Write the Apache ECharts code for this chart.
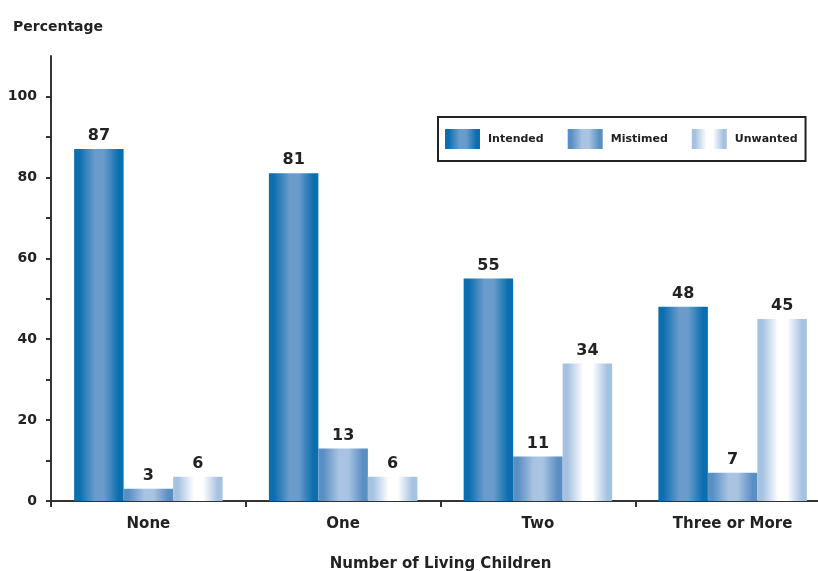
<!DOCTYPE html>
<html><head><meta charset="utf-8">
<script src="https://cdn.jsdelivr.net/npm/echarts@6/dist/echarts.min.js"></script>
<style>html,body{margin:0;padding:0;background:#fff}#c{width:818px;height:571px}</style>
</head><body><div id="c"></div>
<script>
const categories = ['None', 'One', 'Two', 'Three or More'];
const intended = [87, 81, 55, 48];
const mistimed = [3, 13, 11, 7];
const unwanted = [6, 6, 34, 45];
const seriesNames = ['Intended', 'Mistimed', 'Unwanted'];
const yTickValues = [0, 10, 20, 30, 40, 50, 60, 70, 80, 90, 100];
const yLabelValues = [0, 20, 40, 60, 80, 100];

const FONT = '"DejaVu Sans", Verdana, sans-serif';
function grad(edge, mid) {
  return new echarts.graphic.LinearGradient(0, 0, 1, 0, [
    {offset: 0, color: edge}, {offset: 0.1, color: edge},
    {offset: 0.42, color: mid}, {offset: 0.6, color: mid},
    {offset: 0.9, color: edge}, {offset: 1, color: edge}
  ]);
}
const styles = [
  ['#0a6eaf', '#6a9ccb'],
  ['#5a8fc3', '#a9c4e2'],
  ['#a6c2e1', '#ffffff']
];
const dataSets = [intended, mistimed, unwanted];

const chart = echarts.init(document.getElementById('c'), null, {renderer: 'canvas'});
chart.setOption({
  animation: false,
  backgroundColor: '#fff',
  textStyle: {fontFamily: FONT},
  title: {
    text: 'Percentage', left: 8, top: 15,
    textStyle: {fontFamily: FONT, fontSize: 14, fontWeight: 'bold', color: '#222'}
  },
  legend: {
    left: 438, top: 117,
    padding: [12, 8, 12, 7],
    borderColor: '#222', borderWidth: 2,
    icon: 'rect',
    itemWidth: 35, itemHeight: 20, itemGap: 24,
    data: seriesNames,
    textStyle: {fontFamily: FONT, fontSize: 11, fontWeight: 'bold', color: '#222', padding: [0, 0, 0, 3]}
  },
  grid: {left: 51, right: -12, top: 56, bottom: 70, containLabel: false, outerBoundsMode: 'none'},
  xAxis: {
    type: 'category', data: categories,
    name: 'Number of Living Children', nameLocation: 'middle', nameGap: 56,
    nameTextStyle: {fontFamily: FONT, fontSize: 15, fontWeight: 'bold', color: '#222'},
    axisLine: {lineStyle: {color: '#333', width: 2}},
    axisTick: {show: true, length: 6, lineStyle: {color: '#333', width: 2}},
    axisLabel: {fontFamily: FONT, fontSize: 15, fontWeight: 'bold', color: '#222', margin: 16}
  },
  yAxis: {
    type: 'value', min: 0, max: 110, interval: 10,
    splitLine: {show: false},
    axisLine: {show: true, lineStyle: {color: '#333', width: 2}},
    axisTick: {show: true, length: 5, customValues: yTickValues, lineStyle: {color: '#333', width: 2}},
    axisLabel: {
      fontFamily: FONT, fontSize: 14, fontWeight: 'bold', color: '#222', margin: 14,
      customValues: yLabelValues
    }
  },
  series: seriesNames.map((n, i) => ({
    name: n, type: 'bar', data: dataSets[i],
    barWidth: 49.5, barGap: '0%',
    itemStyle: {color: grad(styles[i][0], styles[i][1])},
    label: {show: true, position: 'top', distance: 5,
      fontFamily: FONT, fontSize: 16, fontWeight: 'bold', color: '#222'}
  }))
});
</script></body></html>
